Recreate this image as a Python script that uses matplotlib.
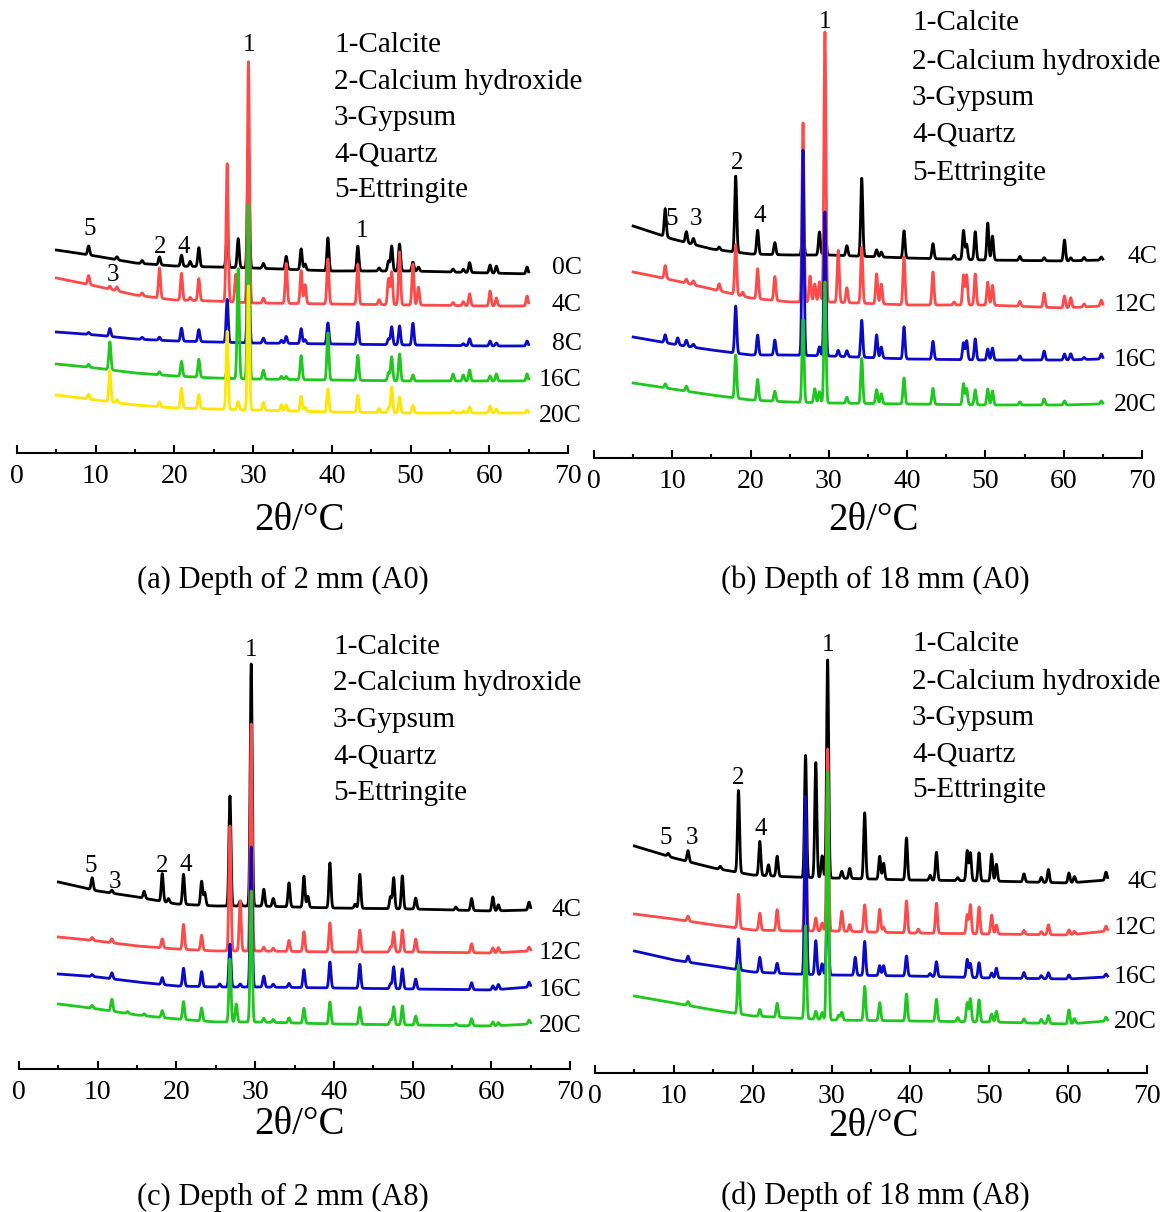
import numpy as np
import matplotlib
matplotlib.use("Agg")
import matplotlib.pyplot as plt

plt.rcParams['font.family'] = ['Liberation Serif', 'DejaVu Serif']
plt.rcParams['mathtext.fontset'] = 'stix'

W, H = 1171, 1212

# ---------------- data ----------------
BASE_X = [5, 10, 15, 20, 25, 30, 40, 50, 60, 65]
LEGEND = ["1-Calcite", "2-Calcium hydroxide", "3-Gypsum", "4-Quartz", "5-Ettringite"]
COLORS_A = ['#000000', '#ff4a4a', '#0a0ac8', '#1ec81e', '#ffe600']
COLORS_B = ['#000000', '#ff4a4a', '#0a0ac8', '#1ec81e']

# Panel (a)
A_labels = ["0C", "4C", "8C", "16C", "20C"]
A_pos = [9.1, 11.8, 12.7, 15.9, 18.1, 20.9, 22.0, 23.1, 26.7, 27.8, 28.1, 29.4, 31.3, 33.6, 34.2,
         36.1, 36.6, 39.5, 43.3, 46.0, 47.2, 47.6, 48.6, 50.3, 51.0, 55.4, 56.7, 57.5, 60.1, 60.9, 64.8]
A_base = [
    [203, 197, 190, 187, 186, 185, 182, 182, 180, 179],
    [175, 167, 158, 153, 152, 150, 149, 148, 147, 147],
    [121, 118, 114, 112, 111, 110, 109, 108, 107, 107],
    [89, 85, 80, 77, 75, 74, 73, 72, 72, 72],
    [58, 53, 48, 45, 44, 43, 41, 40, 40, 40],
]
A_h = [
    [9, 0, 3, 3, 8, 11, 5, 19, 34, 0, 29, 123, 5, 0, 13, 21, 6, 33, 25, 3, 10, 25, 27, 9, 4, 3, 3, 10, 8, 7, 7],
    [9, 3, 4, 3, 30, 27, 3, 22, 138, 28, 0, 241, 5, 0, 40, 33, 19, 45, 40, 5, 26, 33, 53, 41, 18, 3, 4, 12, 15, 8, 10],
    [2, 8, 0, 2, 3, 13, 0, 12, 43, 0, 0, 110, 5, 3, 7, 15, 4, 21, 22, 0, 6, 18, 19, 22, 0, 0, 2, 7, 5, 3, 5],
    [3, 28, 0, 0, 3, 15, 0, 18, 8, 0, 110, 174, 9, 3, 3, 24, 0, 47, 25, 0, 8, 24, 27, 6, 0, 7, 6, 11, 5, 7, 7],
    [5, 31, 3, 0, 5, 20, 0, 14, 78, 0, 8, 124, 8, 6, 6, 15, 4, 23, 17, 4, 5, 26, 16, 8, 0, 2, 2, 6, 7, 4, 3],
]

# Panel (b)
B_labels = ["4C", "12C", "16C", "20C"]
B_pos = [9.1, 10.7, 11.8, 12.7, 16.0, 18.1, 19.0, 20.9, 23.1, 26.7, 27.6, 28.2, 28.8, 29.5, 31.2, 32.3,
         34.2, 36.1, 36.7, 39.6, 43.3, 46.0, 47.2, 47.6, 48.7, 50.3, 50.9, 54.4, 57.5, 60.1, 60.9, 62.6, 64.8]
B_base = [
    [232, 219, 209, 204, 203, 203, 200, 198, 197, 198],
    [186, 178, 169, 160, 156, 156, 153, 153, 150, 152],
    [121, 114, 108, 103, 103, 102, 99, 98, 98, 99],
    [75, 69, 63, 58, 56, 55, 54, 53, 53, 54],
]
B_h = [
    [28, 0, 11, 6, 3, 76, 0, 24, 12, 30, 0, 0, 23, 42, 0, 10, 78, 7, 5, 27, 15, 4, 29, 15, 28, 37, 24, 4, 3, 21, 3, 3, 3],
    [13, 0, 4, 4, 7, 50, 4, 30, 24, 179, 26, 18, 20, 270, 52, 15, 56, 30, 20, 48, 33, 3, 30, 30, 31, 23, 20, 5, 14, 12, 10, 3, 6],
    [8, 7, 6, 3, 0, 47, 0, 20, 15, 205, 0, 0, 9, 144, 6, 6, 37, 23, 11, 32, 18, 0, 17, 19, 21, 11, 12, 4, 9, 6, 6, 2, 5],
    [4, 0, 5, 0, 0, 43, 0, 21, 10, 83, 0, 14, 11, 121, 0, 6, 45, 14, 10, 26, 16, 0, 21, 16, 15, 16, 14, 3, 6, 4, 0, 0, 3],
]

# Panel (c)
C_labels = ["4C", "12C", "16C", "20C"]
C_pos = [9.3, 11.8, 13.8, 15.9, 18.2, 19.0, 20.9, 23.2, 23.6, 25.5, 26.8, 27.6, 28.1, 29.5, 31.1, 32.3,
         34.3, 36.2, 36.7, 39.5, 42.7, 43.3, 47.2, 47.6, 48.7, 50.4, 55.5, 57.5, 60.2, 60.9, 64.8]
C_base = [
    [187, 178, 172, 165, 163, 163, 161, 160, 158, 159],
    [132, 128, 123, 120, 118, 118, 117, 117, 116, 118],
    [95, 92, 87, 83, 82, 82, 81, 80, 79, 82],
    [65, 60, 54, 50, 47, 47, 45, 44, 43, 45],
]
C_h = [
    [12, 3, 0, 7, 28, 4, 30, 24, 13, 0, 110, 0, 5, 242, 17, 8, 24, 31, 11, 45, 4, 34, 12, 31, 33, 11, 3, 12, 14, 6, 8],
    [3, 4, 0, 0, 9, 0, 25, 15, 0, 0, 125, 0, 50, 227, 4, 3, 11, 20, 0, 29, 0, 22, 5, 20, 22, 13, 0, 9, 5, 5, 4],
    [2, 6, 0, 0, 7, 0, 18, 15, 0, 3, 43, 0, 3, 140, 11, 3, 4, 18, 0, 26, 0, 24, 5, 22, 20, 10, 0, 7, 4, 5, 5],
    [3, 12, 2, 2, 7, 0, 18, 13, 0, 0, 63, 18, 0, 131, 4, 3, 5, 15, 0, 22, 0, 17, 5, 18, 19, 9, 2, 7, 4, 3, 4],
]

# Panel (d)
D_labels = ["4C", "12C", "16C", "20C"]
D_pos = [9.3, 11.8, 15.9, 18.2, 20.9, 22.0, 23.1, 26.7, 28.0, 28.8, 29.5, 30.9, 31.3, 32.3, 33.0, 34.2,
         36.1, 36.6, 39.5, 41.0, 42.5, 43.3, 46.0, 47.2, 47.6, 48.7, 50.3, 50.9, 54.4, 56.6, 57.5, 60.1, 60.8, 64.8]
D_base = [
    [227, 215, 205, 198, 196, 195, 193, 192, 190, 193],
    [159, 154, 148, 143, 142, 142, 140, 139, 138, 142],
    [122, 113, 107, 101, 99, 98, 97, 95, 94, 96],
    [77, 70, 63, 57, 55, 53, 52, 51, 49, 52],
]
D_h = [
    [3, 11, 3, 82, 34, 11, 20, 122, 115, 22, 218, 0, 7, 10, 0, 66, 23, 16, 42, 0, 5, 28, 3, 30, 28, 28, 27, 17, 8, 5, 13, 10, 6, 8],
    [0, 5, 0, 34, 17, 0, 21, 110, 13, 8, 182, 0, 20, 7, 0, 27, 23, 5, 32, 4, 0, 30, 0, 19, 29, 27, 19, 9, 4, 3, 10, 5, 3, 5],
    [0, 6, 0, 31, 15, 0, 10, 178, 34, 11, 90, 0, 0, 0, 18, 34, 10, 10, 20, 0, 3, 15, 0, 18, 14, 15, 5, 10, 6, 3, 6, 4, 0, 3],
    [0, 4, 0, 49, 7, 0, 14, 93, 8, 7, 248, 5, 8, 0, 0, 34, 18, 0, 27, 0, 0, 22, 4, 19, 23, 22, 8, 11, 4, 4, 8, 14, 5, 4],
]

CAPTIONS = ["(a) Depth of 2 mm (A0)", "(b) Depth of 18 mm (A0)",
            "(c) Depth of 2 mm (A8)", "(d) Depth of 18 mm (A8)"]

# ---------------- layout (pixels) ----------------
fig = plt.figure(figsize=(W / 100, H / 100), dpi=100)

def fx(x):
    return x / W

def fy(y):
    return 1 - y / H

def make_ax(left, right, bottom, top):
    ax = fig.add_axes([fx(left), fy(bottom), (right - left) / W, (bottom - top) / H])
    ax.set_xlim(0, 70)
    ax.set_ylim(0, bottom - top)
    for s in ['top', 'left', 'right']:
        ax.spines[s].set_visible(False)
    ax.spines['bottom'].set_linewidth(1.5)
    ax.set_yticks([])
    ax.set_xticks(np.arange(0, 71, 10))
    ax.set_xticks(np.arange(5, 70, 10), minor=True)
    ax.tick_params(axis='x', which='major', direction='in', length=6, width=1.5,
                   labelsize=20, pad=8)
    ax.tick_params(axis='x', which='minor', direction='in', length=3, width=1.5)
    ax.patch.set_alpha(0)
    return ax

xs = np.arange(5, 65.0001, 0.02)
SIG = 0.13

def trace(base, pos, h):
    y = np.interp(xs, BASE_X, base)
    for p, hh in zip(pos, h):
        if hh:
            y = y + hh * np.exp(-0.5 * ((xs - p) / SIG) ** 2)
    return y

panels = [
    dict(box=(17, 568, 453, 15), pos=A_pos, base=A_base, h=A_h, labels=A_labels, colors=COLORS_A,
         lab_x=582, lab_y=[268, 305, 344, 380, 416], leg_x=334, leg_y=[45, 82, 118, 154, 190],
         xl=(300, 520), cap=(283, 580),
         peaks=[("1", 249, 45), ("5", 90, 229), ("2", 160, 247), ("4", 184, 247), ("3", 113, 275), ("1", 362, 231)]),
    dict(box=(594, 1142, 458, 15), pos=B_pos, base=B_base, h=B_h, labels=B_labels, colors=COLORS_B,
         lab_x=1157, lab_y=[257, 305, 360, 405], leg_x=912, leg_y=[23, 62, 98, 135, 173],
         xl=(873, 520), cap=(875, 580),
         peaks=[("1", 825, 22), ("2", 737, 163), ("5", 672, 219), ("3", 696, 219), ("4", 760, 216)]),
    dict(box=(19, 570, 1069, 630), pos=C_pos, base=C_base, h=C_h, labels=C_labels, colors=COLORS_B,
         lab_x=582, lab_y=[910, 953, 990, 1026], leg_x=333, leg_y=[647, 683, 720, 757, 793],
         xl=(300, 1125), cap=(283, 1197),
         peaks=[("1", 251, 650), ("5", 91, 866), ("3", 115, 882), ("2", 162, 866), ("4", 186, 865)]),
    dict(box=(595, 1147, 1073, 630), pos=D_pos, base=D_base, h=D_h, labels=D_labels, colors=COLORS_B,
         lab_x=1157, lab_y=[882, 928, 977, 1022], leg_x=912, leg_y=[644, 682, 718, 754, 790],
         xl=(873, 1127), cap=(875, 1196),
         peaks=[("1", 828, 645), ("2", 738, 778), ("4", 761, 829), ("5", 666, 838), ("3", 692, 838)]),
]

for i, P in enumerate(panels):
    l, r, b, t = P['box']
    ax = make_ax(l, r, b, t)
    for base, h, col in zip(P['base'], P['h'], P['colors']):
        ax.plot(xs, trace(base, P['pos'], h), color=col, lw=2.0, clip_on=False,
                solid_joinstyle='round')
    for lab, yy in zip(P['labels'], P['lab_y']):
        fig.text(fx(P['lab_x']), fy(yy), lab, ha='right', va='center', fontsize=18.5)
    for txt, yy in zip(LEGEND, P['leg_y']):
        fig.text(fx(P['leg_x']), fy(yy), txt, ha='left', va='center', fontsize=21)
    for txt, px, py in P['peaks']:
        fig.text(fx(px), fy(py), txt, ha='center', va='center', fontsize=18)
    fig.text(fx(P['xl'][0]), fy(P['xl'][1]), "2θ/°C", ha='center', va='center', fontsize=28)
    fig.text(fx(P['cap'][0]), fy(P['cap'][1]), CAPTIONS[i], ha='center', va='center', fontsize=22)

fig.savefig("out.png", dpi=100, facecolor='white')
